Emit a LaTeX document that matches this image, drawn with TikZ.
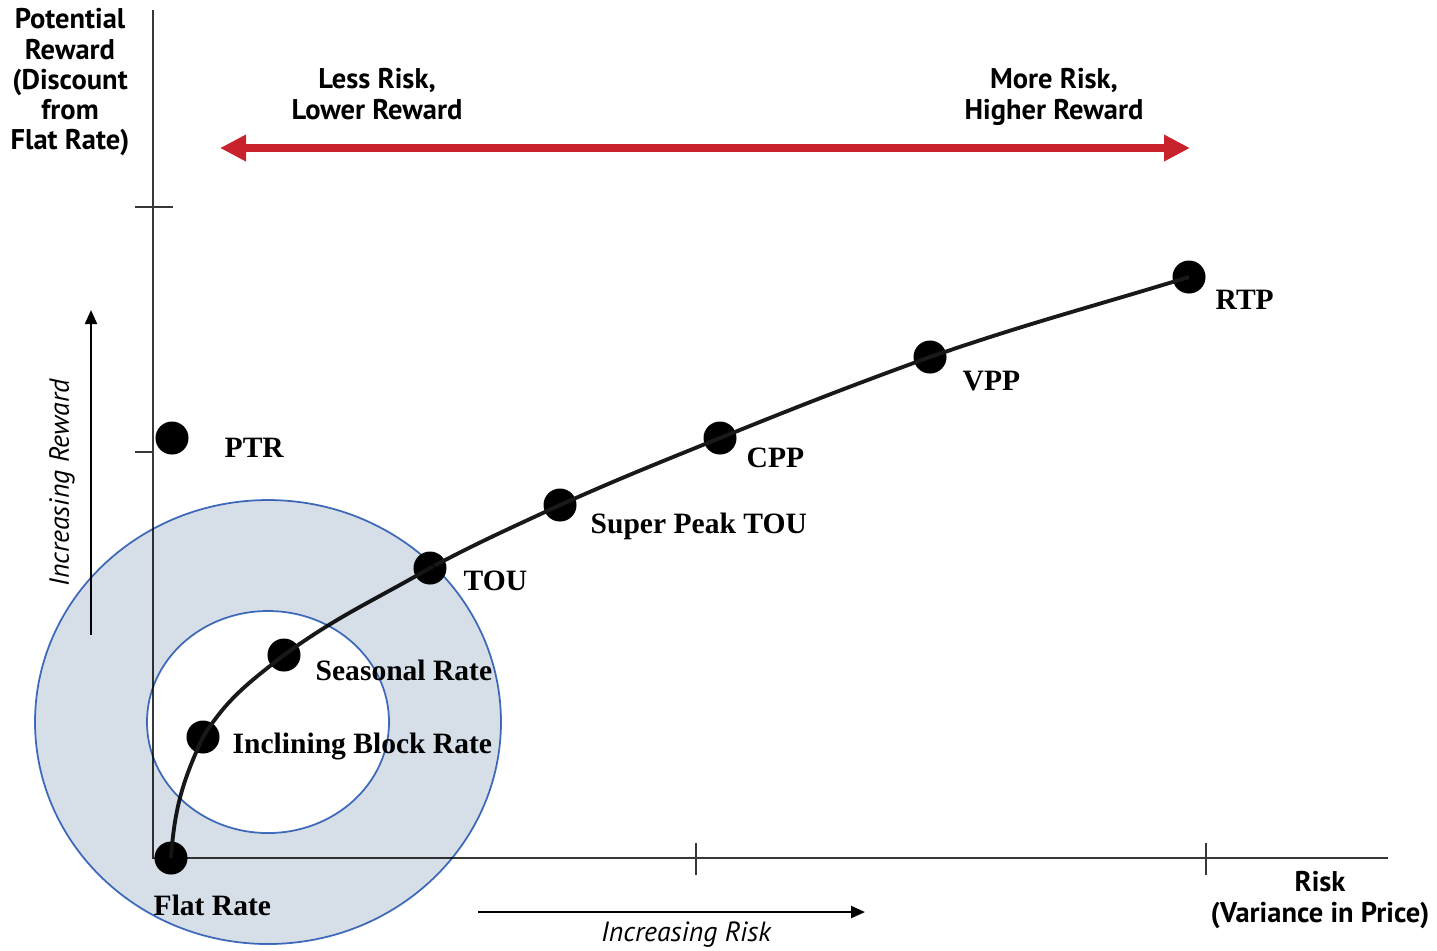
\documentclass[tikz,border=0pt]{standalone}
\usepackage{fontspec}
\setmainfont{Liberation Serif}
\newfontfamily\sansf{PT Sans}
\usetikzlibrary{arrows.meta}
\definecolor{arrowred}{RGB}{200,35,45}
\definecolor{ringfill}{RGB}{214,222,231}
\definecolor{ringline}{RGB}{68,114,196}
\definecolor{axisgray}{RGB}{55,55,55}
\tikzset{
  dot/.style={circle, fill=black, minimum size=0.33cm, inner sep=0pt},
  lab/.style={font=\bfseries\fontsize{8.4}{10}\selectfont, anchor=base west, inner sep=0pt},
  sanslab/.style={font=\sansf\bfseries\fontsize{8.1}{8.6}\selectfont, align=center, inner sep=0pt},
  itlab/.style={font=\sansf\itshape\fontsize{7.9}{9}\selectfont, inner sep=0pt},
  axisline/.style={draw=axisgray, line width=0.6pt},
  curveline/.style={line width=1.1pt, draw=black!90},
  redarrow/.style={draw=arrowred, line width=2.4pt,
     {Triangle[length=0.26cm,width=0.25cm]}-{Triangle[length=0.26cm,width=0.25cm]}},
  thinarrow/.style={draw=black, line width=0.6pt, -{Triangle[length=0.14cm,width=0.12cm]}},
  ringshape/.style={fill=ringfill, draw=ringline, line width=0.5pt, even odd rule}
}
\begin{document}
\begin{tikzpicture}[x=0.01cm,y=-0.01cm]
\useasboundingbox (0,0) rectangle (1437,950);

% axes
\coordinate (ytop) at (153,10);
\coordinate (orig) at (153,858);
\coordinate (xend) at (1388,858);
\draw[axisline] (ytop) -- (orig) -- (xend);
\coordinate (t1a) at (135,207); \coordinate (t1b) at (173,207);
\coordinate (t2a) at (135,452); \coordinate (t2b) at (153,452);
\coordinate (t3a) at (696,843); \coordinate (t3b) at (696,875);
\coordinate (t4a) at (1206,843); \coordinate (t4b) at (1206,875);
\draw[axisline] (t1a) -- (t1b);
\draw[axisline] (t2a) -- (t2b);
\draw[axisline] (t3a) -- (t3b);
\draw[axisline] (t4a) -- (t4b);

% axis titles
\node[sanslab, anchor=north] (ytitle) at (70,8) {Potential\\Reward\\(Discount\\from\\Flat Rate)};
\node[sanslab, anchor=north] (xtitle) at (1320,871) {Risk\\(Variance in Price)};

% red arrow
\node[sanslab, anchor=north] (less) at (377,68) {Less Risk,\\Lower Reward};
\node[sanslab, anchor=north] (more) at (1054,68) {More Risk,\\Higher Reward};
\coordinate (ra) at (220,148);
\coordinate (rb) at (1190,148);
\draw[redarrow] (ra) -- (rb);

% increasing arrows
\coordinate (ira) at (91,635); \coordinate (irb) at (91,310);
\draw[thinarrow] (ira) -- (irb);
\node[itlab, rotate=90] (irl) at (62,483) {Increasing Reward};
\coordinate (isa) at (478,912); \coordinate (isb) at (865,912);
\draw[thinarrow] (isa) -- (isb);
\node[itlab] (isl) at (686,935) {Increasing Risk};

% points
\node[dot] (fr)  at (171,858) {};
\node[dot] (ibr) at (203,737) {};
\node[dot] (sr)  at (284,655) {};
\node[dot] (tou) at (430,568) {};
\node[dot] (sp)  at (560,505) {};
\node[dot] (cpp) at (720,438) {};
\node[dot] (vpp) at (930,357) {};
\node[dot] (rtp) at (1189,277) {};
\node[dot] (ptr) at (172,438) {};

\draw[curveline] (fr.center) to[out=86,in=-115] (ibr.center)
  to[out=58,in=-142] (sr.center)
  to[out=36,in=-150] (tou.center)
  to[out=28,in=-155] (sp.center)
  to[out=24,in=-158] (cpp.center)
  to[out=22,in=-160] (vpp.center)
  to[out=19,in=-163] (rtp.center);

% labels
\node[lab] (frl)  at (153,915) {Flat Rate};
\node[lab] (ibrl) at (232,753) {Inclining Block Rate};
\node[lab] (srl)  at (315,680) {Seasonal Rate};
\node[lab] (toul) at (463,590) {TOU};
\node[lab] (spl)  at (590,533) {Super Peak TOU};
\node[lab] (cppl) at (746,467) {CPP};
\node[lab] (vppl) at (962,390) {VPP};
\node[lab] (rtpl) at (1215,309) {RTP};
\node[lab] (ptrl) at (224,457) {PTR};

% rings
\coordinate (cc) at (268,722);
\begin{scope}[blend mode=multiply]
\path[ringshape] (cc) ellipse[x radius=233, y radius=222] (cc) ellipse[x radius=121, y radius=111];
\end{scope}
\end{tikzpicture}
\end{document}
